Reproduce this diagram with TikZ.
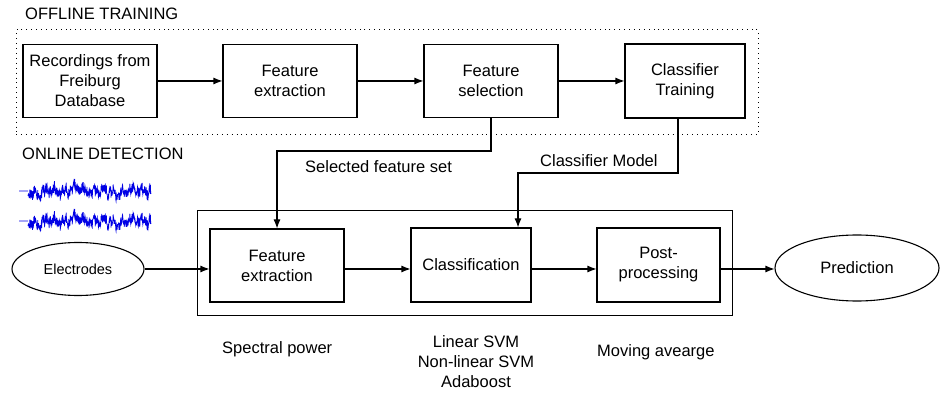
\documentclass[tikz,border=0pt]{standalone}
\usepackage{fontspec}
\setmainfont{Liberation Sans}
\usetikzlibrary{arrows.meta,shapes.geometric}
\begin{document}
\begin{tikzpicture}[x=1pt,y=-1pt,
  font=\fontsize{16.5}{20}\selectfont,
  box/.style={draw, line width=1.1pt, inner sep=0pt, align=center},
  oval/.style={draw, ellipse, line width=1.1pt, inner sep=0pt},
  conn/.style={line width=1.1pt, -{Latex[length=9pt,width=7pt]}},
  lbl/.style={inner sep=0pt, anchor=base west},
  wave/.style={blue!90!black, line width=0.7pt}
]
\useasboundingbox (0,0) rectangle (942,395);

% offline training
\node[lbl] (offl) at (25,20) {OFFLINE TRAINING};
\node[draw, line width=1pt, dash pattern=on 0.9pt off 4pt, minimum width=742pt, minimum height=105pt, inner sep=0pt] (offbox) at (387,82.5) {};
\node[box, minimum width=134pt, minimum height=73pt] (rec) at (90,81) {Recordings from\\Freiburg\\Database};
\node[box, minimum width=134pt, minimum height=73pt] (fe1) at (290,81) {Feature\\extraction};
\node[box, minimum width=134pt, minimum height=73pt] (fs) at (491,81) {Feature\\selection};
\node[box, minimum width=120pt, minimum height=74pt] (ct) at (685,81) {Classifier\\Training};
\draw[conn] (rec) -- (fe1);
\draw[conn] (fe1) -- (fs);
\draw[conn] (fs) -- (ct);

% online detection
\node[lbl] (onl) at (22,160) {ONLINE DETECTION};
\node[draw, line width=0.9pt, minimum width=535pt, minimum height=105pt, inner sep=0pt] (outer) at (464.5,262.5) {};
\node[box, minimum width=134pt, minimum height=73pt] (fe2) at (277,265.5) {Feature\\extraction};
\node[box, minimum width=120pt, minimum height=74pt] (cls) at (471,265) {Classification};
\node[box, minimum width=123pt, minimum height=74pt] (pp) at (658.5,265) {Post-\\processing};
\node[oval, minimum width=132pt, minimum height=53pt, font=\fontsize{14.5}{18}\selectfont] (el) at (78,269) {Electrodes};
\node[oval, minimum width=164pt, minimum height=66pt] (pred) at (857,268) {Prediction};

\draw[conn] (el.east) -- (el.east -| fe2.west);
\draw[conn] (fe2.east |- el.east) -- (cls.west |- el.east);
\draw[conn] (cls.east |- el.east) -- (pp.west |- el.east);
\draw[conn] (pp.east |- el.east) -- (pred.west |- el.east);

% feedback connectors
\coordinate (k1) at (678,173);
\coordinate (k2) at (518,0);
\draw[conn] (fs.south) -- ++(0,33) -| (fe2.north);
\draw[conn] (ct.south -| k1) -- (k1) -| (cls.north -| k2);

\node[lbl] (sfs) at (305,173) {Selected feature set};
\node[lbl] (cmod) at (540,167) {Classifier Model};

% bottom labels
\node[lbl] (spec) at (222,353) {Spectral power};
\node[inner sep=0pt, anchor=base, align=center] (meth) at (476,387) {Linear SVM\\Non-linear SVM\\Adaboost};
\node[lbl] (mov) at (597,356) {Moving avearge};

% EEG waveforms
\foreach \yc/\nm in {191/w1, 221/w2}{
  \pgfmathsetseed{4242}
  \coordinate (\nm) at (19,\yc);
  \draw[wave] (\nm) -- ++(9,0)
    plot[domain=0:123, samples=420]
    (28+\x, {\yc + 5.5*rand + 2.5*sin(37*\x) + 2*sin(91*\x+20) + 1.5*sin(5*\x+30) + 1.5*sin(13*\x)});
}
\end{tikzpicture}
\end{document}
